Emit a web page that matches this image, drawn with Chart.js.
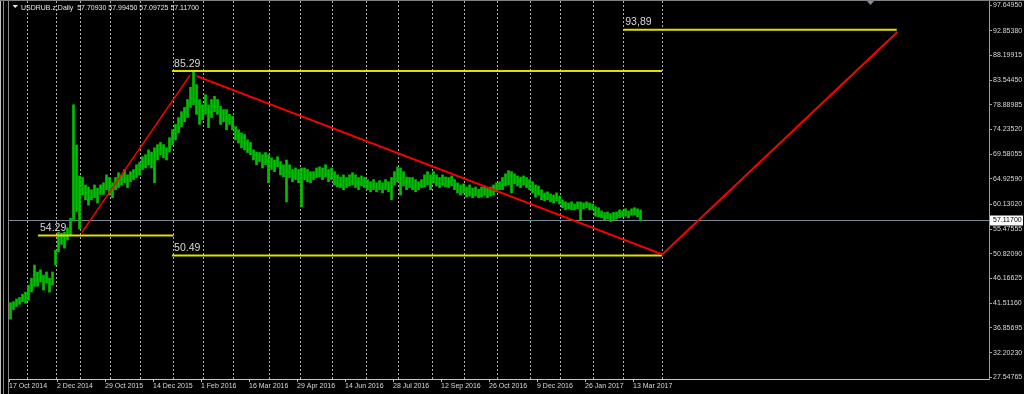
<!DOCTYPE html>
<html>
<head>
<meta charset="utf-8">
<script src="https://cdn.jsdelivr.net/npm/chart.js@4/dist/chart.umd.min.js"></script>
<style>
  html, body { margin: 0; background: #000; }
  canvas { display: block; }
</style>
</head>
<body>
<canvas id="chart" width="1024" height="394"></canvas>
<script>
const symbolTitle = "USDRUB.z,Daily  57.70930 57.99450 57.09725 57.11700";

// daily bars, one sample every second bar (bar index = 2 * k + 1)
const barLows = [
  38.5, 40.3, 40.9, 41.3, 41.8, 41.5, 42.1, 43.6, 44.7, 44.7, 45.5, 44.0, 45.3, 43.6, 44.9, 48.7,
  51.2, 52.6, 51.9, 53.4, 54.2, 57.0, 58.8, 55.5, 61.9, 61.0, 60.0, 61.0, 61.4, 60.4, 62.0, 62.0,
  62.9, 61.9, 61.4, 62.9, 63.3, 63.8, 64.2, 63.3, 64.4, 64.8, 65.2, 65.7, 66.7, 67.0, 67.6, 67.0,
  64.2, 68.5, 69.5, 68.9, 68.5, 70.0, 71.4, 72.3, 73.6, 74.8, 75.7, 76.5, 78.4, 78.9, 77.1, 75.2,
  76.1, 77.1, 74.6, 76.5, 77.6, 77.1, 75.2, 75.7, 74.2, 75.2, 74.2, 72.3, 71.7, 70.8, 70.4, 69.9,
  69.5, 68.5, 67.6, 68.2, 67.0, 67.6, 64.2, 66.7, 66.3, 67.2, 65.7, 65.3, 60.6, 65.2, 64.4, 64.8,
  64.2, 59.7, 64.8, 64.4, 64.2, 64.8, 65.2, 65.3, 64.8, 65.3, 64.4, 64.8, 63.8, 63.4, 63.3, 62.9,
  63.3, 63.6, 63.8, 63.3, 62.9, 63.6, 63.3, 62.9, 62.5, 62.9, 62.5, 62.9, 62.3, 62.9, 62.5, 61.0,
  63.8, 64.4, 61.9, 63.6, 62.9, 63.3, 62.9, 62.5, 62.9, 63.3, 63.4, 63.8, 62.9, 64.2, 63.6, 63.3,
  63.8, 63.4, 63.3, 63.6, 62.9, 62.3, 61.9, 62.3, 61.5, 61.7, 61.4, 61.7, 61.4, 61.5, 61.9, 61.4,
  61.7, 61.9, 62.5, 62.9, 62.9, 63.6, 63.8, 62.3, 64.0, 63.6, 63.3, 63.8, 63.3, 62.9, 62.3, 61.5,
  61.9, 61.0, 60.8, 61.0, 60.6, 60.4, 60.8, 60.2, 59.5, 59.1, 59.3, 59.1, 59.1, 59.3, 57.2, 59.3,
  59.5, 59.1, 59.1, 57.9, 57.8, 57.6, 57.2, 57.4, 56.9, 57.2, 57.4, 57.6, 57.8, 57.9, 57.6, 58.1,
  58.1, 57.8, 57.0
];
const barHighs = [
  41.6, 41.8, 42.3, 42.6, 43.2, 43.6, 44.9, 46.2, 48.7, 47.4, 47.8, 46.8, 47.4, 46.2, 47.4, 51.5,
  54.9, 54.7, 54.9, 55.7, 57.5, 78.9, 71.3, 65.5, 65.2, 63.8, 63.4, 62.9, 63.8, 63.2, 63.8, 64.2,
  65.7, 65.2, 64.2, 65.2, 66.1, 65.7, 66.7, 65.7, 66.3, 66.7, 67.6, 68.0, 69.1, 69.5, 70.4, 70.0,
  70.8, 71.4, 71.8, 71.4, 70.8, 72.7, 74.2, 75.2, 76.5, 77.6, 78.4, 79.9, 82.2, 85.3, 82.7, 79.9,
  78.9, 80.8, 78.9, 79.9, 80.5, 79.9, 78.6, 78.0, 78.0, 77.1, 76.7, 74.8, 74.2, 73.6, 73.3, 72.3,
  71.8, 70.4, 70.0, 69.9, 69.5, 69.9, 69.5, 68.9, 68.5, 69.1, 68.2, 67.6, 68.5, 67.6, 66.7, 67.0,
  66.7, 67.0, 67.0, 66.7, 66.3, 66.3, 67.0, 67.2, 67.0, 67.6, 66.7, 67.0, 66.3, 65.7, 65.3, 65.7,
  65.2, 65.7, 66.1, 65.7, 65.2, 65.5, 65.2, 64.8, 64.4, 64.8, 64.2, 64.6, 64.2, 64.8, 64.4, 65.2,
  66.3, 67.2, 67.0, 66.3, 65.3, 65.2, 65.2, 64.8, 64.4, 64.8, 65.7, 66.3, 65.7, 66.3, 65.7, 65.2,
  65.7, 65.3, 65.2, 65.5, 64.8, 64.2, 63.8, 64.0, 63.4, 63.8, 63.2, 63.4, 63.0, 63.4, 63.6, 63.2,
  63.4, 63.8, 64.2, 64.4, 65.2, 65.9, 66.5, 66.3, 65.9, 65.5, 65.3, 65.5, 65.2, 64.8, 64.4, 63.8,
  63.6, 62.9, 62.3, 62.5, 62.1, 61.9, 62.3, 61.7, 61.0, 60.6, 60.4, 60.6, 60.2, 60.6, 60.6, 60.4,
  60.6, 60.4, 60.2, 59.7, 59.5, 58.9, 58.6, 58.7, 58.4, 58.6, 58.7, 59.1, 58.9, 59.3, 58.9, 59.3,
  59.5, 59.3, 59.1
];

const dateLabels = ["17 Oct 2014", "2 Dec 2014", "29 Oct 2015", "14 Dec 2015", "1 Feb 2016",
  "16 Mar 2016", "29 Apr 2016", "14 Jun 2016", "28 Jul 2016", "12 Sep 2016", "26 Oct 2016",
  "9 Dec 2016", "26 Jan 2017", "13 Mar 2017"];
const dateBars = [0, 32, 64, 96, 128, 160, 192, 224, 256, 288, 320, 352, 384, 416];
const monthBars = [12, 31, 47, 67, 87, 109, 129, 149, 173, 194, 215, 238, 259, 282, 303, 325,
  347, 367, 389, 409, 435];

const priceTicks = [27.54765, 32.20230, 36.85695, 41.51160, 46.16625, 50.82090, 55.47555,
  60.13020, 64.92590, 69.58055, 74.23520, 78.88985, 83.54450, 88.19915, 92.85380, 97.64950];
const lastPrice = 57.117;

const trendUp = [[48.5, 54.8], [120.7, 84.5]];
const trendDown = [[125.1, 84.3], [435.5, 50.7], [592.2, 92.6]];

const levelLabels = ["85.29", "54.29", "50.49", "93,89"];
const levelValues = [85.29, 54.29, 50.49, 93.05];
const levelStart = [108.7, 19.3, 108.7, 409.5];
const levelEnd = [435.3, 109.8, 435.3, 591.8];

const TEXT = "#d8d8d8";
const FONT = "Liberation Sans";

const toPoints = (pairs) => pairs.map(([x, y]) => ({ x, y }));

const levelSets = levelValues.map((v, i) => ({
  type: "line",
  data: [{ x: levelStart[i], y: v }, { x: levelEnd[i], y: v }],
  borderColor: "#e0e000",
  borderWidth: 2,
  pointRadius: 0,
  order: 1,
}));

const mtDecor = {
  id: "mtDecor",
  beforeDraw(chart) {
    const { ctx, width, height } = chart;
    ctx.save();
    ctx.fillStyle = "#000";
    ctx.fillRect(0, 0, width, height);
    ctx.fillStyle = "#c0c0c0";
    ctx.fillRect(0, 0, 1, height);
    ctx.fillStyle = "#8a8a8a";
    ctx.fillRect(3, 0, 1, height);
    ctx.fillRect(8, 0, 1, height);
    ctx.fillStyle = "#808080";
    ctx.fillRect(0, 0, width, 1);
    ctx.restore();
  },
  beforeDatasetsDraw(chart) {
    const { ctx, chartArea, scales } = chart;
    ctx.save();
    ctx.strokeStyle = "#b0b0b0";
    ctx.lineWidth = 1;
    ctx.setLineDash([2, 2]);
    monthBars.forEach((b) => {
      const x = Math.round(scales.x.getPixelForValue(b)) + 0.5;
      ctx.beginPath();
      ctx.moveTo(x, chartArea.top);
      ctx.lineTo(x, chartArea.bottom);
      ctx.stroke();
    });
    ctx.setLineDash([]);
    const py = Math.round(scales.y.getPixelForValue(lastPrice)) + 0.5;
    ctx.strokeStyle = "#7a8a9a";
    ctx.beginPath();
    ctx.moveTo(chartArea.left, py);
    ctx.lineTo(chartArea.right, py);
    ctx.stroke();
    ctx.restore();
  },
  afterDraw(chart) {
    const { ctx, chartArea, scales } = chart;
    ctx.save();
    ctx.fillStyle = TEXT;
    ctx.font = "10.5px " + FONT;
    ctx.textBaseline = "bottom";
    levelLabels.forEach((t, i) => {
      const x = scales.x.getPixelForValue(levelStart[i]) + 2;
      const y = scales.y.getPixelForValue(levelValues[i]) - 2;
      ctx.fillText(t, x, y);
    });

    // title
    ctx.fillStyle = "#e8e8e8";
    ctx.beginPath();
    ctx.moveTo(12.5, 5);
    ctx.lineTo(18, 5);
    ctx.lineTo(15.25, 8);
    ctx.closePath();
    ctx.fill();
    ctx.font = "8px " + FONT;
    ctx.textBaseline = "middle";
    ctx.fillText(symbolTitle, 21, 7.5, 178);

    // last price box
    const py = scales.y.getPixelForValue(lastPrice);
    ctx.fillStyle = "#ffffff";
    ctx.fillRect(chartArea.right + 1, Math.round(py) - 4.5, 33, 10);
    ctx.fillStyle = "#000";
    ctx.font = "7px " + FONT;
    ctx.fillText(lastPrice.toFixed(5), chartArea.right + 4, Math.round(py) + 0.5);

    // chart shift marker
    ctx.fillStyle = "#8090a0";
    ctx.beginPath();
    ctx.moveTo(867, 1);
    ctx.lineTo(874, 1);
    ctx.lineTo(870.5, 5);
    ctx.closePath();
    ctx.fill();
    ctx.restore();
  },
};

new Chart(document.getElementById("chart"), {
  type: "bar",
  data: {
    datasets: [
      {
        type: "bar",
        data: barLows.map((lo, k) => ({ x: 2 * k + 1, y: [lo, barHighs[k]] })),
        backgroundColor: "#00c000",
        barThickness: 2,
        grouped: false,
        order: 2,
      },
      {
        type: "line",
        data: toPoints(trendUp),
        borderColor: "#ff0000",
        borderWidth: 1.5,
        pointRadius: 0,
        order: 1,
      },
      {
        type: "line",
        data: toPoints(trendDown),
        borderColor: "#ff0000",
        borderWidth: 2,
        pointRadius: 0,
        order: 1,
      },
      ...levelSets,
    ],
  },
  options: {
    responsive: false,
    animation: false,
    layout: { padding: { left: 9, top: 1, right: 0, bottom: 0 } },
    plugins: {
      legend: { display: false },
      tooltip: { enabled: false },
    },
    scales: {
      x: {
        type: "linear",
        offset: false,
        min: 0,
        max: 653.3,
        afterBuildTicks: (s) => {
          s.ticks = dateBars.map((v) => ({ value: v }));
        },
        afterFit: (s) => {
          s.height = 15;
          s.paddingLeft = 0;
          s.paddingRight = 0;
        },
        ticks: {
          autoSkip: false,
          maxRotation: 0,
          align: "start",
          padding: 0,
          color: TEXT,
          font: { family: FONT, size: 7 },
          callback: (v, i) => dateLabels[i],
        },
        grid: { offset: false, drawOnChartArea: false, tickLength: 3, color: "#c0c0c0" },
        border: { color: "#c8c8c8" },
      },
      y: {
        type: "linear",
        position: "right",
        min: 27.227,
        max: 98.46,
        afterBuildTicks: (s) => {
          s.ticks = priceTicks.map((v) => ({ value: v }));
        },
        afterFit: (s) => {
          s.width = 35;
          s.paddingTop = 0;
          s.paddingBottom = 0;
        },
        ticks: {
          padding: 1,
          color: TEXT,
          font: { family: FONT, size: 7 },
          callback: (v) => v.toFixed(5),
        },
        grid: { drawOnChartArea: false, tickLength: 3, color: "#a0a0a0" },
        border: { color: "#a0a0a0" },
      },
    },
  },
  plugins: [mtDecor],
});
</script>
</body>
</html>
